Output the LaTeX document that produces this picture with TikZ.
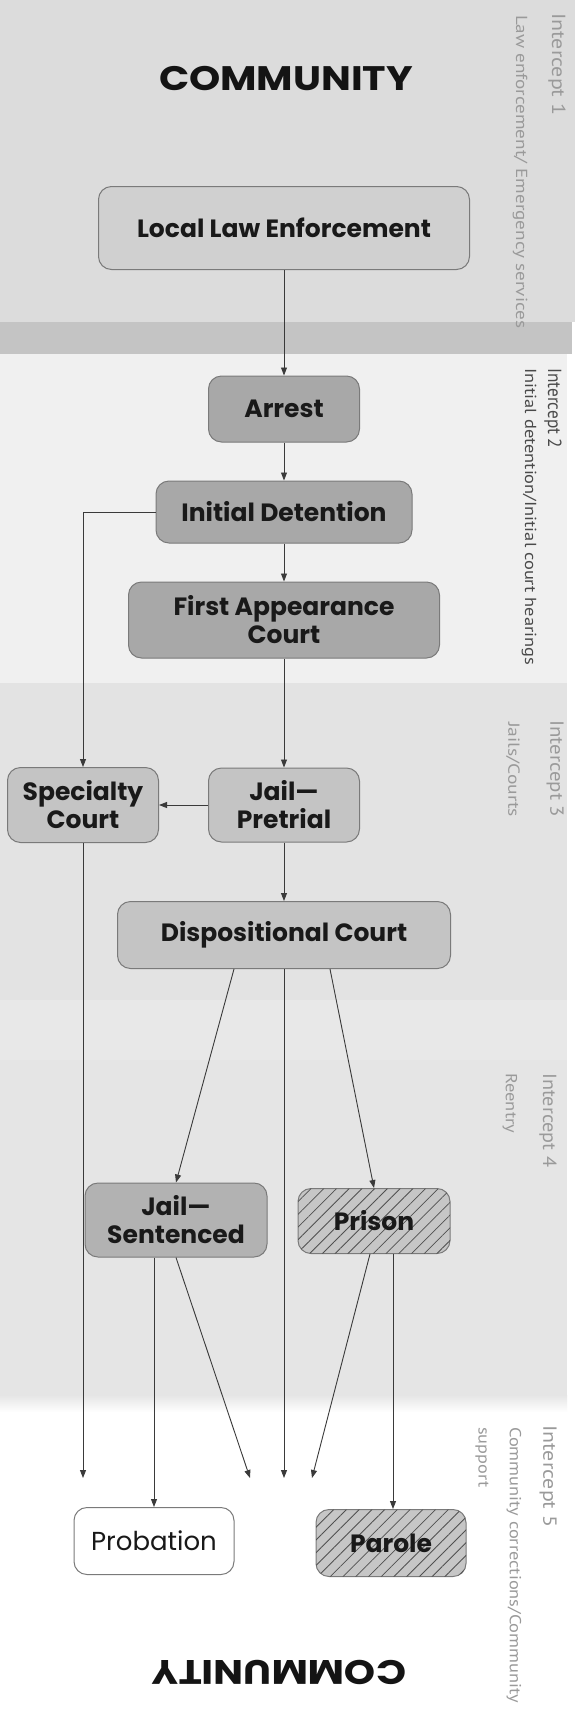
\documentclass[tikz,border=0pt]{standalone}
\usepackage{fontspec}
\usepackage{graphicx}
\setmainfont{Poppins}
\newfontfamily\sidefont{PT Sans}
\usetikzlibrary{arrows.meta,patterns.meta}
\definecolor{bandA}{HTML}{DCDCDC}
\definecolor{stripc}{HTML}{C4C4C4}
\definecolor{bandB}{HTML}{F0F0F0}
\definecolor{bandC}{HTML}{E3E3E3}
\definecolor{bandCC}{HTML}{E8E8E8}
\definecolor{bandD}{HTML}{E5E5E5}
\definecolor{boxline}{HTML}{7A7A7A}
\definecolor{fillL}{HTML}{D0D0D0}
\definecolor{fillD}{HTML}{A8A8A8}
\definecolor{fillM}{HTML}{C4C4C4}
\definecolor{fillS}{HTML}{B2B2B2}
\definecolor{hatchbg}{HTML}{C6C6C6}
\definecolor{hatchln}{HTML}{505050}
\definecolor{wire}{HTML}{3A3A3A}
\definecolor{sidelt}{HTML}{9A9A9A}
\definecolor{sidedk}{HTML}{4A4A4A}
\begin{document}
\begin{tikzpicture}[x=1pt,y=-1pt,
  box/.style={draw=boxline,line width=1pt,rounded corners=13pt,align=center,inner sep=0pt,text=black!90,font=\fontsize{25}{28}\selectfont\bfseries},
  darkbox/.style={box,fill=fillD},
  midbox/.style={box,fill=fillM},
  lightbox/.style={box,fill=fillL},
  sentbox/.style={box,fill=fillS},
  hatchbox/.style={box,fill=hatchbg,postaction={pattern={Lines[angle=45,distance=9pt,line width=0.8pt]},pattern color=hatchln}},
  plainbox/.style={box,fill=white,font=\fontsize{26}{28}\selectfont},
  arr/.style={draw=wire,line width=0.9pt,-{Triangle[length=8pt,width=6pt]}},
  sidetxt/.style={rotate=-90,anchor=west,inner sep=0pt},
  titletxt/.style={font=\fontsize{34}{34}\selectfont\bfseries,text=black!92,inner sep=0pt},
]
\useasboundingbox (0,0) rectangle (579,1716);
\fill[white] (0,0) rectangle (579,1716);
\fill[bandA] (0,0) rectangle (575,322);
\fill[stripc] (0,322) rectangle (572,354);
\fill[bandB] (0,354) rectangle (567,683);
\fill[bandC] (0,683) rectangle (567,1000);
\fill[bandCC] (0,1000) rectangle (567,1060);
\fill[bandD] (0,1060) rectangle (567,1395);
\shade[top color=bandD,bottom color=white] (0,1395) rectangle (567,1412);

% titles
\node[titletxt] (toptitle) at (286,79) {\resizebox{254pt}{\height}{COMMUNITY}};
\node[titletxt,rotate=180] (bottitle) at (279,1672) {\resizebox{254pt}{\height}{COMMUNITY}};

% side labels
\node[sidetxt,text=sidelt,font=\sidefont\fontsize{19}{19}\selectfont] (i1t) at (557,13) {\resizebox{102pt}{\height}{Intercept 1}};
\node[sidetxt,text=sidelt,font=\sidefont\fontsize{16}{16}\selectfont] (i1s) at (520,15) {\resizebox{313pt}{\height}{Law enforcement/ Emergency services}};
\node[sidetxt,text=sidedk,font=\sidefont\fontsize{19}{19}\selectfont] (i2t) at (553,368) {\resizebox{80pt}{\height}{Intercept 2}};
\node[sidetxt,text=sidedk,font=\sidefont\fontsize{16}{16}\selectfont] (i2s) at (529,368) {\resizebox{297pt}{\height}{Initial detention/Initial court hearings}};
\node[sidetxt,text=sidelt,font=\sidefont\fontsize{19}{19}\selectfont] (i3t) at (555,720) {\resizebox{97pt}{\height}{Intercept 3}};
\node[sidetxt,text=sidelt,font=\sidefont\fontsize{16}{16}\selectfont] (i3s) at (513,722) {\resizebox{95pt}{\height}{Jails/Courts}};
\node[sidetxt,text=sidelt,font=\sidefont\fontsize{19}{19}\selectfont] (i4t) at (548,1073) {\resizebox{94pt}{\height}{Intercept 4}};
\node[sidetxt,text=sidelt,font=\sidefont\fontsize{16}{16}\selectfont] (i4s) at (510,1073) {\resizebox{60pt}{\height}{Reentry}};
\node[sidetxt,text=sidelt,font=\sidefont\fontsize{19}{19}\selectfont] (i5t) at (548,1425) {\resizebox{102pt}{\height}{Intercept 5}};
\node[sidetxt,text=sidelt,font=\sidefont\fontsize{16}{16}\selectfont] (i5s) at (514,1427) {\resizebox{276pt}{\height}{Community corrections/Community}};
\node[sidetxt,text=sidelt,font=\sidefont\fontsize{16}{16}\selectfont] (i5u) at (482,1427) {\resizebox{60pt}{\height}{support}};

% nodes
\node[lightbox,minimum width=371pt,minimum height=83pt] (lle) at (284,228) {Local Law Enforcement};
\node[darkbox,minimum width=151pt,minimum height=66pt] (arrest) at (284,409) {Arrest};
\node[darkbox,minimum width=256pt,minimum height=62pt] (idet) at (284,512) {Initial Detention};
\node[darkbox,minimum width=311pt,minimum height=76pt] (fac) at (284,620) {First Appearance\\Court};
\node[midbox,minimum width=151pt,minimum height=75pt] (sc) at (83,805) {Specialty\\Court};
\node[midbox,minimum width=151pt,minimum height=74pt] (jp) at (284,805) {Jail—\\Pretrial};
\node[midbox,minimum width=333pt,minimum height=67pt] (dc) at (284,935) {Dispositional Court};
\node[sentbox,minimum width=182pt,minimum height=74pt] (js) at (176,1220) {Jail—\\Sentenced};
\node[hatchbox,minimum width=152pt,minimum height=65pt] (prison) at (374,1221) {Prison};
\node[plainbox,minimum width=160pt,minimum height=67pt] (prob) at (154,1541) {Probation};
\node[hatchbox,minimum width=150pt,minimum height=67pt] (parole) at (391,1543) {Parole};

% free ends
\coordinate (eSC) at (83,1478);
\coordinate (eJS) at (250,1478);
\coordinate (eDC) at (284,1478);
\coordinate (ePR) at (312,1478);

% connectors
\draw[arr] (lle) -- (arrest);
\draw[arr] (arrest) -- (idet);
\draw[arr] (idet) -- (fac);
\draw[arr] (fac) -- (jp);
\draw[arr] (jp) -- (dc);
\draw[arr] (idet.west) -| (sc.north);
\draw[arr] (jp.west) -- (sc.east);
\draw[arr] ([xshift=-50pt]dc.south) -- (js.north);
\draw[arr] ([xshift=46pt]dc.south) -- (prison.north);
\draw[arr] (dc.south) -- (eDC);
\draw[arr] (sc.south) -- (eSC);
\draw[arr] ([xshift=-22pt]js.south) -- ([xshift=-22pt]js.south |- prob.north);
\draw[arr] (js.south) -- (eJS);
\draw[arr] ([xshift=-4pt]prison.south) -- (ePR);
\draw[arr] ([xshift=19pt]prison.south) -- ([xshift=19pt]prison.south |- parole.north);
\end{tikzpicture}
\end{document}
